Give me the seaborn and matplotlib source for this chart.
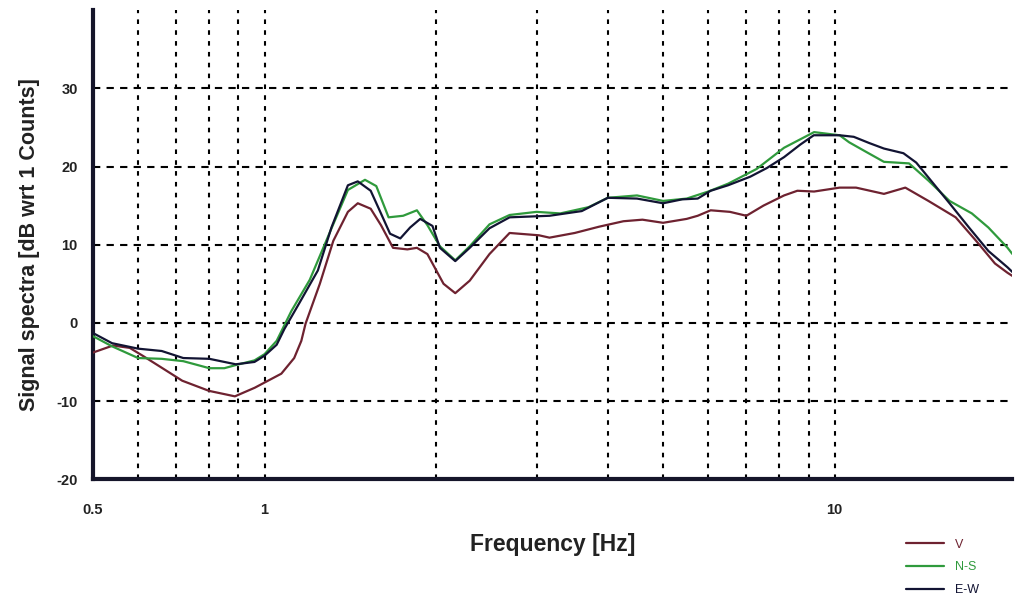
import matplotlib
matplotlib.use("Agg")
import matplotlib.pyplot as plt
import numpy as np
import pandas as pd
import seaborn as sns

# Spectral curves (frequency in Hz, level in dB wrt 1 count)
v_freq = [0.5, 0.542, 0.58, 0.611, 0.662, 0.717, 0.799, 0.887, 0.961, 1.07, 1.127, 1.16,
          1.18, 1.25, 1.32, 1.40, 1.457, 1.535, 1.60, 1.68, 1.78, 1.85, 1.93, 2.06, 2.16,
          2.29, 2.48, 2.69, 3.03, 3.16, 3.5, 3.86, 4.26, 4.6, 5.0, 5.5, 5.75, 6.06, 6.55,
          7.0, 7.5, 8.15, 8.6, 9.2, 10.2, 10.9, 12.2, 13.3, 14.6, 16.3, 17.7, 19.1, 20.1, 20.5]
v_db = [-3.8, -2.9, -3.2, -4.2, -5.8, -7.4, -8.7, -9.4, -8.3, -6.5, -4.5, -2.3,
        -0.1, 5.0, 10.5, 14.2, 15.3, 14.6, 12.5, 9.6, 9.4, 9.6, 8.8, 5.0, 3.8,
        5.4, 8.8, 11.5, 11.2, 10.9, 11.5, 12.3, 13.0, 13.2, 12.8, 13.3, 13.7, 14.4, 14.2,
        13.7, 15.0, 16.3, 16.9, 16.8, 17.3, 17.3, 16.5, 17.3, 15.6, 13.5, 10.5, 7.6, 6.4, 6.0]

ns_freq = [0.5, 0.54, 0.6, 0.66, 0.72, 0.8, 0.85, 0.89, 0.96, 1.0, 1.05, 1.114, 1.2, 1.3,
           1.40, 1.5, 1.57, 1.65, 1.75, 1.85, 1.93, 2.03, 2.16, 2.29, 2.48, 2.69, 3.0, 3.3,
           3.7, 4.0, 4.5, 5.0, 5.5, 6.0, 6.5, 7.3, 8.15, 9.2, 10.2, 10.6, 11.4, 12.2, 13.5,
           14.6, 15.9, 17.4, 18.6, 20.1, 20.5]
ns_db = [-1.7, -3.0, -4.5, -4.6, -4.9, -5.8, -5.8, -5.4, -4.8, -4.0, -2.3, 1.5, 5.5, 11.5,
         17.0, 18.3, 17.5, 13.5, 13.7, 14.4, 12.5, 9.8, 8.0, 9.8, 12.6, 13.8, 14.2, 14.0,
         14.8, 16.0, 16.3, 15.6, 15.9, 16.8, 17.8, 19.7, 22.4, 24.4, 24.0, 23.1, 21.8, 20.6, 20.4,
         18.2, 15.6, 14.0, 12.2, 9.6, 8.8]

ew_freq = [0.5, 0.54, 0.6, 0.66, 0.72, 0.8, 0.89, 0.96, 1.0, 1.05, 1.083, 1.15, 1.24, 1.31,
           1.40, 1.457, 1.535, 1.60, 1.66, 1.73, 1.80, 1.875, 1.97, 2.03, 2.16, 2.29, 2.48,
           2.69, 3.16, 3.6, 4.0, 4.5, 5.0, 5.4, 5.75, 6.06, 6.5, 7.11, 7.6, 8.15, 8.7, 9.19,
           10.2, 10.8, 11.5, 12.2, 13.2, 13.9, 14.6, 15.9, 17.2, 18.6, 20.1, 20.5]
ew_db = [-1.3, -2.6, -3.3, -3.6, -4.5, -4.6, -5.3, -5.0, -4.2, -2.8, -0.8, 2.5, 6.7, 12.2,
         17.6, 18.1, 16.9, 14.0, 11.4, 10.8, 12.2, 13.3, 12.4, 9.6, 7.9, 9.6, 12.1,
         13.5, 13.7, 14.3, 16.0, 15.9, 15.3, 15.8, 15.9, 16.9, 17.6, 18.7, 19.8, 21.2, 22.8, 24.0,
         24.0, 23.8, 23.0, 22.3, 21.7, 20.5, 18.6, 15.3, 12.2, 9.2, 7.1, 6.5]

components = ["V", "N-S", "E-W"]
colors = {"V": "#6e2230", "N-S": "#2f9a3c", "E-W": "#121433"}

x_major = [0.5, 1, 10]
x_major_labels = ["0.5", "1", "10"]
x_grid = [0.6, 0.7, 0.8, 0.9, 2, 3, 4, 5, 6, 7, 8, 9]
y_ticks = [-20, -10, 0, 10, 20, 30]

df = pd.concat([
    pd.DataFrame({"freq": v_freq, "db": v_db, "comp": "V"}),
    pd.DataFrame({"freq": ns_freq, "db": ns_db, "comp": "N-S"}),
    pd.DataFrame({"freq": ew_freq, "db": ew_db, "comp": "E-W"}),
], ignore_index=True)

sns.set_style("white")
plt.rcParams["font.family"] = ["Liberation Sans", "DejaVu Sans"]

fig = plt.figure(figsize=(10.16, 5.99), dpi=100)
ax = fig.add_axes([0.0915, 0.2, 0.905, 0.783])

ink = "#15152a"
for comp in components:
    sub = df[df["comp"] == comp]
    sns.lineplot(data=sub, x="freq", y="db", ax=ax, color=colors[comp],
                 linewidth=1.6, label=comp, legend=False, sort=False,
                 zorder=3 if comp != "E-W" else 4)

ax.set_xscale("log")
ax.set_xlim(0.5, 20.5)
ax.set_ylim(-20, 40)

ax.set_xticks(x_major)
ax.set_xticklabels(x_major_labels)
ax.set_xticks(x_grid, minor=True)
ax.set_xticklabels([], minor=True)
ax.set_yticks(y_ticks)
ax.set_yticklabels([str(t) for t in y_ticks])

ax.xaxis.grid(True, which="both", color="black", linestyle=(0, (2.2, 3.0)), linewidth=1.5)
ax.yaxis.grid(True, which="major", color="black", linestyle=(0, (3.5, 3.0)), linewidth=1.5)
ax.set_axisbelow(True)

for s in ["top", "right"]:
    ax.spines[s].set_visible(False)
for s in ["left", "bottom"]:
    ax.spines[s].set_color(ink)
    ax.spines[s].set_linewidth(3)

ax.tick_params(axis="y", which="major", direction="out", length=5, width=1.5,
               color=ink, labelsize=10.5, pad=6, labelcolor="#222")
ax.tick_params(axis="x", which="major", direction="out", length=7, width=1.5,
               color=ink, labelsize=10.5, pad=10, labelcolor="#222")
ax.tick_params(axis="x", which="minor", length=0)
for lab in ax.get_xticklabels() + ax.get_yticklabels():
    lab.set_fontweight("bold")

ax.set_xlabel("Frequency [Hz]", fontsize=16.5, fontweight="bold", color="#222", labelpad=12)
ax.set_ylabel("Signal spectra [dB wrt 1 Counts]", fontsize=15.5, fontweight="bold",
              color="#222", labelpad=12)

handles, labels = ax.get_legend_handles_labels()
leg = fig.legend(handles, labels, loc="center", bbox_to_anchor=(0.928, 0.053),
                 frameon=False, fontsize=9, handlelength=3.0, handletextpad=0.9,
                 labelspacing=0.85)
for txt, comp in zip(leg.get_texts(), labels):
    txt.set_color(colors[comp])

fig.savefig("out.png", dpi=100)
